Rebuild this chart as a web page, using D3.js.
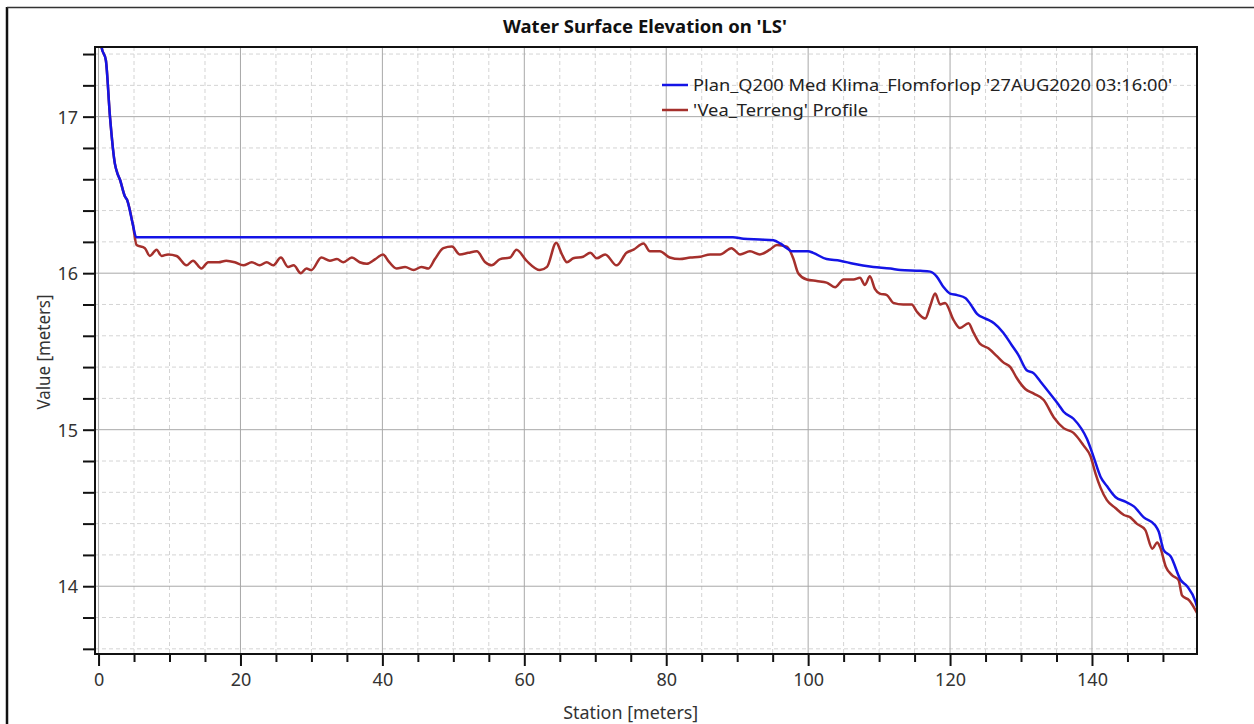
<!DOCTYPE html>
<html>
<head>
<meta charset="utf-8">
<script src="https://cdn.jsdelivr.net/npm/d3@7"></script>
<style>
	body { margin: 0; background: #fff; }
	text { font-family: "Noto Sans", "Open Sans", sans-serif; }
</style>
</head>
<body>
<script>
// Water surface (blue) - station, value
var wsStation = [0, 0.42, 1.03, 1.61, 2.3, 2.64, 3.0, 3.72, 4.0, 4.84, 5.3, 89.4, 90.9, 93.2, 95.1, 96.05, 97.0, 97.7, 100.0, 100.7, 102.6, 104.5, 106.4, 109.2, 111.6, 113.0, 115.8, 117.2, 118.1, 119.1, 120.0, 121.0, 122.2, 122.9, 123.8, 125.0, 126.2, 127.5, 128.7, 129.6, 130.8, 131.8, 132.7, 134.1, 135.3, 136.0, 137.4, 139.3, 140.2, 141.2, 142.1, 143.3, 144.7, 145.9, 147.3, 148.9, 149.4, 150.1, 151.1, 152.5, 153.4, 154.6, 154.8];
var wsValue = [17.62, 17.445, 17.36, 17.0, 16.7, 16.64, 16.6, 16.49, 16.47, 16.31, 16.23, 16.23, 16.22, 16.215, 16.21, 16.19, 16.16, 16.14, 16.14, 16.13, 16.09, 16.08, 16.06, 16.04, 16.03, 16.02, 16.015, 16.01, 15.98, 15.91, 15.87, 15.86, 15.84, 15.80, 15.74, 15.71, 15.68, 15.62, 15.54, 15.48, 15.38, 15.36, 15.31, 15.23, 15.16, 15.115, 15.07, 14.94, 14.83, 14.70, 14.64, 14.57, 14.54, 14.51, 14.44, 14.39, 14.35, 14.23, 14.19, 14.04, 14.00, 13.90, 13.87];

// Terrain profile (red) - station, value
var terStation = [0, 0.42, 1.03, 1.61, 2.3, 2.64, 3.0, 3.72, 4.0, 4.84, 5.36, 6.53, 7.23, 8.18, 8.88, 9.8, 11.0, 12.4, 13.3, 14.5, 15.45, 16.9, 18.0, 19.2, 20.4, 21.6, 22.7, 23.7, 24.6, 25.7, 26.7, 27.5, 28.5, 29.3, 30.0, 31.4, 32.6, 33.6, 34.5, 35.7, 36.8, 37.8, 39.0, 40.1, 40.8, 42.0, 43.2, 44.4, 45.5, 46.5, 47.4, 48.6, 49.8, 50.9, 52.1, 53.3, 54.5, 55.4, 56.6, 58.0, 58.9, 60.3, 62.2, 63.2, 64.5, 65.3, 66.0, 66.9, 68.3, 69.3, 70.2, 71.4, 73.0, 74.4, 75.4, 76.8, 77.7, 79.1, 80.5, 81.9, 83.4, 84.8, 86.2, 87.6, 89.2, 90.4, 91.8, 93.2, 94.6, 95.6, 97.0, 97.9, 98.6, 99.8, 101.2, 102.6, 103.8, 105.0, 106.4, 107.3, 108.0, 108.7, 109.4, 110.1, 111.1, 112.0, 113.4, 114.6, 115.3, 116.5, 117.2, 117.9, 118.6, 119.3, 120.5, 121.4, 122.6, 123.3, 124.2, 125.4, 126.6, 127.5, 128.5, 129.4, 130.6, 131.8, 133.2, 134.6, 136.0, 137.4, 138.8, 139.8, 140.5, 141.2, 142.1, 143.3, 144.5, 145.4, 146.3, 147.5, 148.5, 149.2, 149.6, 150.4, 151.3, 152.2, 152.7, 153.7, 154.8];
var terValue = [17.62, 17.445, 17.36, 17.0, 16.7, 16.64, 16.6, 16.49, 16.47, 16.31, 16.18, 16.16, 16.11, 16.15, 16.11, 16.12, 16.11, 16.05, 16.08, 16.03, 16.07, 16.07, 16.08, 16.07, 16.05, 16.07, 16.05, 16.07, 16.05, 16.10, 16.04, 16.05, 16.0, 16.03, 16.02, 16.10, 16.08, 16.09, 16.07, 16.10, 16.07, 16.06, 16.09, 16.12, 16.08, 16.03, 16.04, 16.02, 16.04, 16.03, 16.09, 16.16, 16.17, 16.12, 16.13, 16.14, 16.07, 16.05, 16.09, 16.10, 16.15, 16.08, 16.02, 16.04, 16.195, 16.12, 16.07, 16.095, 16.105, 16.13, 16.095, 16.12, 16.05, 16.13, 16.15, 16.19, 16.14, 16.14, 16.10, 16.09, 16.10, 16.105, 16.12, 16.12, 16.16, 16.12, 16.14, 16.12, 16.15, 16.18, 16.17, 16.095, 16.0, 15.96, 15.95, 15.94, 15.91, 15.96, 15.96, 15.97, 15.925, 15.98, 15.90, 15.87, 15.86, 15.81, 15.80, 15.80, 15.755, 15.71, 15.79, 15.87, 15.80, 15.81, 15.70, 15.65, 15.68, 15.62, 15.55, 15.52, 15.47, 15.43, 15.40, 15.33, 15.26, 15.23, 15.19, 15.08, 15.01, 14.98, 14.90, 14.83, 14.72, 14.63, 14.55, 14.50, 14.455, 14.44, 14.40, 14.36, 14.24, 14.28, 14.25, 14.125, 14.07, 14.04, 13.94, 13.91, 13.83];

var xMajorTicks = [0, 20, 40, 60, 80, 100, 120, 140];
var yMajorTicks = [14, 15, 16, 17];
var seriesNames = ["Plan_Q200 Med Klima_Flomforlop '27AUG2020 03:16:00'", "'Vea_Terreng' Profile"];
var seriesColors = ["#1414e6", "#a5302c"];

var W = 1254, H = 724;
var margin = { top: 47, left: 95, right: 57, bottom: 70 };
var width = W - margin.left - margin.right,
	height = H - margin.top - margin.bottom;

var svg = d3.select("body").append("svg")
	.attr("width", W)
	.attr("height", H);

// outer frame (left and top edges only are visible)
svg.append("line").attr("x1", 7).attr("x2", 7).attr("y1", 7).attr("y2", H)
	.attr("stroke", "#111").attr("stroke-width", 2.5);
svg.append("line").attr("x1", 7).attr("x2", W).attr("y1", 7.5).attr("y2", 7.5)
	.attr("stroke", "#333").attr("stroke-width", 1.5);

var x = d3.scaleLinear().domain([-0.5, 154.8]).range([0, width]);
var y = d3.scaleLinear().domain([13.567, 17.445]).range([height, 0]);

var g = svg.append("g")
	.attr("transform", "translate(" + margin.left + "," + margin.top + ")");

// minor / major grid
var xMinor = d3.range(5, 155, 5).filter(function(d) { return d % 20 != 0; });
var yMinor = d3.range(13.6, 17.45, 0.2).filter(function(d) { return Math.abs(d - Math.round(d)) > 0.01; });

g.append("g").selectAll("line").data(xMinor).enter().append("line")
	.attr("x1", x).attr("x2", x).attr("y1", 0).attr("y2", height)
	.attr("stroke", "#d4d4d4").attr("stroke-dasharray", "4,3");
g.append("g").selectAll("line").data(yMinor).enter().append("line")
	.attr("x1", 0).attr("x2", width).attr("y1", y).attr("y2", y)
	.attr("stroke", "#d4d4d4").attr("stroke-dasharray", "4,3");
g.append("g").selectAll("line").data(xMajorTicks).enter().append("line")
	.attr("x1", x).attr("x2", x).attr("y1", 0).attr("y2", height)
	.attr("stroke", "#a8a8a8");
g.append("g").selectAll("line").data(yMajorTicks).enter().append("line")
	.attr("x1", 0).attr("x2", width).attr("y1", y).attr("y2", y)
	.attr("stroke", "#a8a8a8");

// series
var clip = g.append("clipPath").attr("id", "plotclip");
clip.append("rect").attr("width", width).attr("height", height);

var line = d3.line()
	.x(function(d) { return x(d[0]); })
	.y(function(d) { return y(d[1]); })
	.curve(d3.curveMonotoneX);

var terData = d3.zip(terStation, terValue);
var wsData = d3.zip(wsStation, wsValue);

g.append("path").datum(terData)
	.attr("clip-path", "url(#plotclip)")
	.attr("d", line).attr("fill", "none")
	.attr("stroke", seriesColors[1]).attr("stroke-width", 2.5);
g.append("path").datum(wsData)
	.attr("clip-path", "url(#plotclip)")
	.attr("d", line).attr("fill", "none")
	.attr("stroke", seriesColors[0]).attr("stroke-width", 2.5);

// axes
var yAxis = g.append("g")
	.call(d3.axisLeft(y).tickValues(yMinor.concat(yMajorTicks)).tickSize(12)
		.tickFormat(function(d) { return yMajorTicks.indexOf(d) >= 0 ? d : ""; }));
var xAxisMinor = g.append("g").attr("transform", "translate(0," + height + ")")
	.call(d3.axisBottom(x).tickValues(xMinor).tickSize(8).tickFormat(""));
var xAxis = g.append("g").attr("transform", "translate(0," + height + ")")
	.call(d3.axisBottom(x).tickValues(xMajorTicks).tickSize(12));

[yAxis, xAxis, xAxisMinor].forEach(function(a) {
	a.select(".domain").remove();
	a.selectAll(".tick line").attr("stroke", "#111").attr("stroke-width", 2);
	a.selectAll("text").attr("fill", "#333").style("font-size", "18px")
		.style("font-family", "'Noto Sans', sans-serif");
});
yAxis.selectAll("text").attr("x", -17).attr("dy", "0.36em");
xAxis.selectAll("text").attr("y", 19);

// plot border
g.append("rect").attr("width", width).attr("height", height)
	.attr("fill", "none").attr("stroke", "#111").attr("stroke-width", 2);

// title and axis labels
svg.append("text").attr("x", 645).attr("y", 33)
	.attr("text-anchor", "middle").style("font-weight", "bold").style("font-size", "18px")
	.attr("fill", "#111").attr("textLength", 284).attr("lengthAdjust", "spacingAndGlyphs")
	.text("Water Surface Elevation on 'LS'");
svg.append("text").attr("x", margin.left + x(75)).attr("y", 719)
	.attr("text-anchor", "middle").style("font-size", "18px").attr("fill", "#333")
	.attr("textLength", 135).attr("lengthAdjust", "spacingAndGlyphs")
	.text("Station [meters]");
svg.append("text").attr("transform", "translate(50,352) rotate(-90)")
	.attr("text-anchor", "middle").style("font-size", "18px").attr("fill", "#333")
	.attr("textLength", 115).attr("lengthAdjust", "spacingAndGlyphs")
	.text("Value [meters]");

// legend
var legendWidths = [479, 175];
var legend = svg.append("g").attr("transform", "translate(662,85)");
seriesNames.forEach(function(name, i) {
	var row = legend.append("g").attr("transform", "translate(0," + (i * 25) + ")");
	row.append("line").attr("x1", 0).attr("x2", 26).attr("y1", 0).attr("y2", 0)
		.attr("stroke", seriesColors[i]).attr("stroke-width", 2.5);
	row.append("text").attr("x", 31).attr("y", 0).attr("dy", "0.35em")
		.style("font-size", "17px").attr("fill", "#222")
		.attr("textLength", legendWidths[i]).attr("lengthAdjust", "spacingAndGlyphs")
		.text(name);
});
</script>
</body>
</html>
